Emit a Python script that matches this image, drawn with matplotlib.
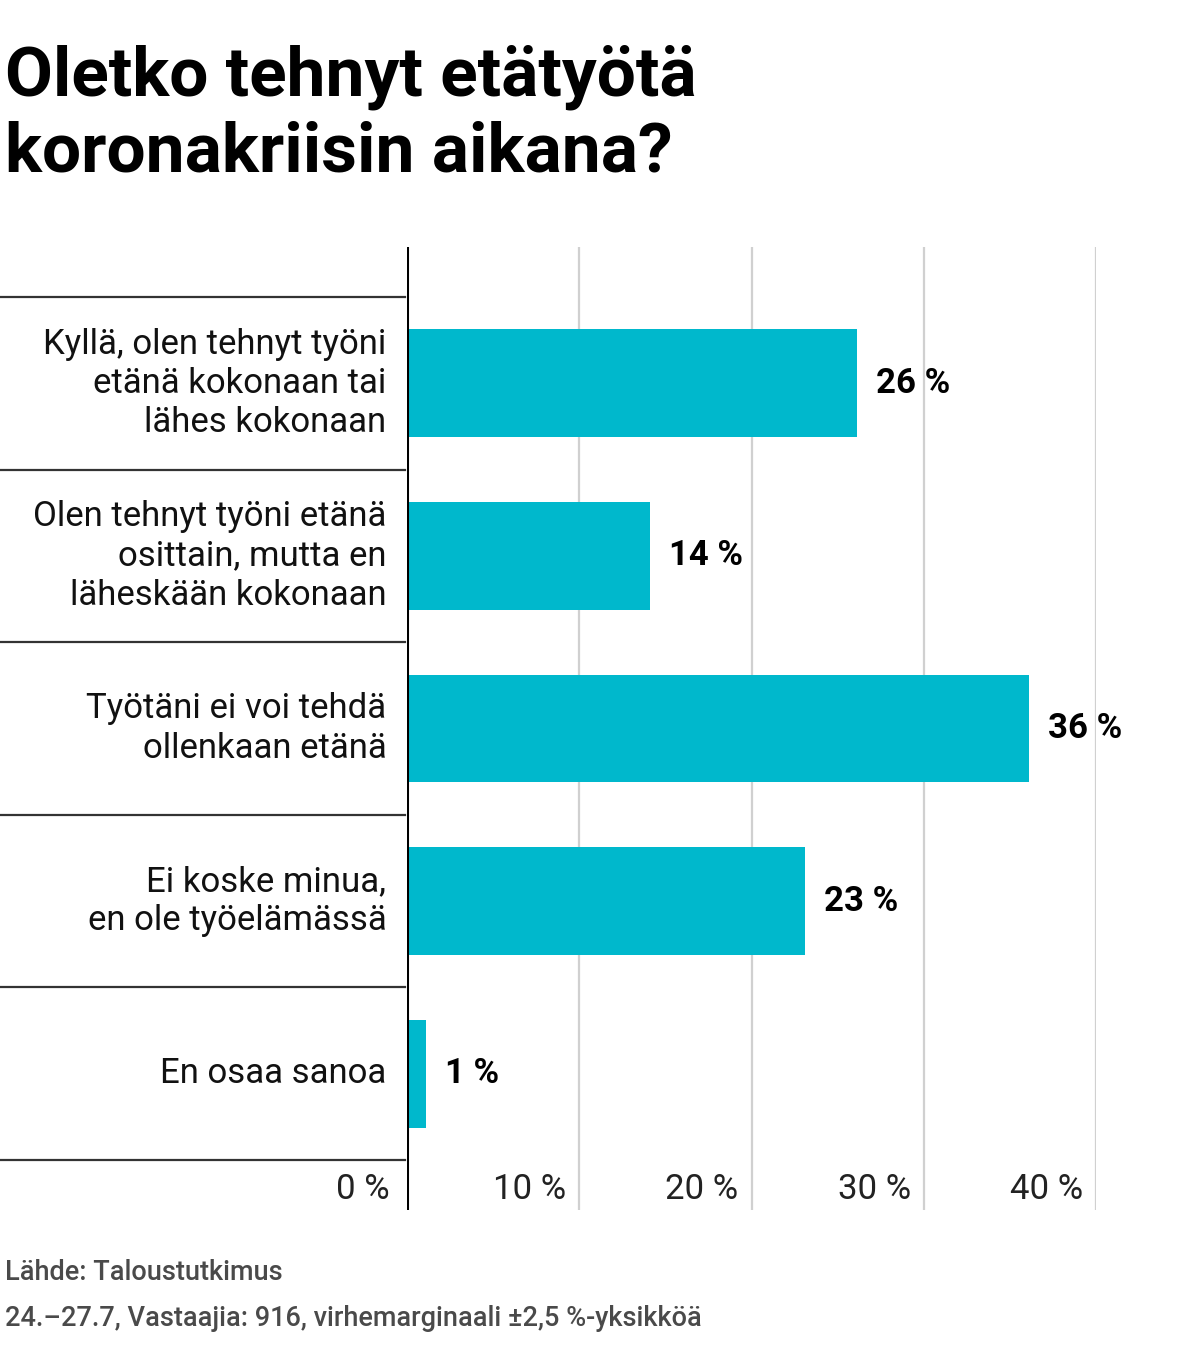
import matplotlib.pyplot as plt
from matplotlib.transforms import blended_transform_factory, offset_copy

# Data
categories = [
    "Kyllä, olen tehnyt työni\netänä kokonaan tai\nlähes kokonaan",
    "Olen tehnyt työni etänä\nosittain, mutta en\nläheskään kokonaan",
    "Työtäni ei voi tehdä\nollenkaan etänä",
    "Ei koske minua,\nen ole työelämässä",
    "En osaa sanoa",
]
values = [26, 14, 36, 23, 1]
ticks = [0, 10, 20, 30, 40]
tick_labels = ["0 %", "10 %", "20 %", "30 %", "40 %"]

title_lines = ["Oletko tehnyt etätyötä", "koronakriisin aikana?"]
source = "Lähde: Taloustutkimus"
note = "24.–27.7, Vastaajia: 916, virhemarginaali ±2,5 %-yksikköä"

plt.rcParams['font.family'] = ['Roboto', 'DejaVu Sans']

W, H = 1199, 1349
fig = plt.figure(figsize=(W / 100, H / 100), dpi=100)

# axes in pixel coords: x 407..1096, y 247..1210
ax = fig.add_axes([407 / W, 1 - 1210 / H, (1096 - 407) / W, (1210 - 247) / H])
ax.set_xlim(0, 40)
pad = 50 / 172.6
ax.set_ylim(len(values) - 0.5 + pad, -0.5 - pad)
for s in ax.spines.values():
    s.set_visible(False)
ax.set_xticks([])
ax.set_yticks([])

# gridlines
for t in ticks[1:]:
    ax.axvline(t, color='#d0d0d0', lw=1.6, zorder=0)
ax.axvline(0, color='black', lw=2.2, zorder=3)

ypos = list(range(len(values)))
ax.barh(ypos, values, height=0.625, color='#00b8cc', zorder=2, left=0.1)

# value labels
for y, v in zip(ypos, values):
    ax.text(v + 1.2, y, f"{v} %", ha='left', va='center', fontsize=25,
            fontweight='bold', color='black')

# category labels and row separators
trans = blended_transform_factory(fig.transFigure, ax.transData)
for y, c in zip(ypos, categories):
    ax.text(-1.2, y, c, ha='right', va='center', fontsize=25,
            color='#111111', linespacing=1.24)
for b in [i - 0.5 for i in range(len(values) + 1)]:
    ax.plot([0, 405 / W], [b, b], transform=trans, color='#333333',
            lw=1.6, clip_on=False)

# tick labels
for t, lab in zip(ticks, tick_labels):
    off = -17 if t == 0 else -13
    tt = offset_copy(ax.transData, fig=fig, x=off, y=0, units='dots')
    ax.text(t, len(values) - 0.5 + 0.17, lab, transform=tt, ha='right',
            va='center', fontsize=25, color='#222222')

# title and footer
fig.text(5 / W, 1 - 95 / H, title_lines[0], ha='left', va='baseline',
         fontsize=50, fontweight='bold', color='black')
fig.text(5 / W, 1 - 172 / H, title_lines[1], ha='left', va='baseline',
         fontsize=50, fontweight='bold', color='black')
fig.text(5 / W, 1 - 1273 / H, source, ha='left', va='center', fontsize=19.5,
         fontweight='medium', color='#4a4a4a')
fig.text(5 / W, 1 - 1318 / H, note, ha='left', va='center', fontsize=19.5,
         fontweight='medium', color='#4a4a4a')

fig.savefig('out.png', dpi=100)
